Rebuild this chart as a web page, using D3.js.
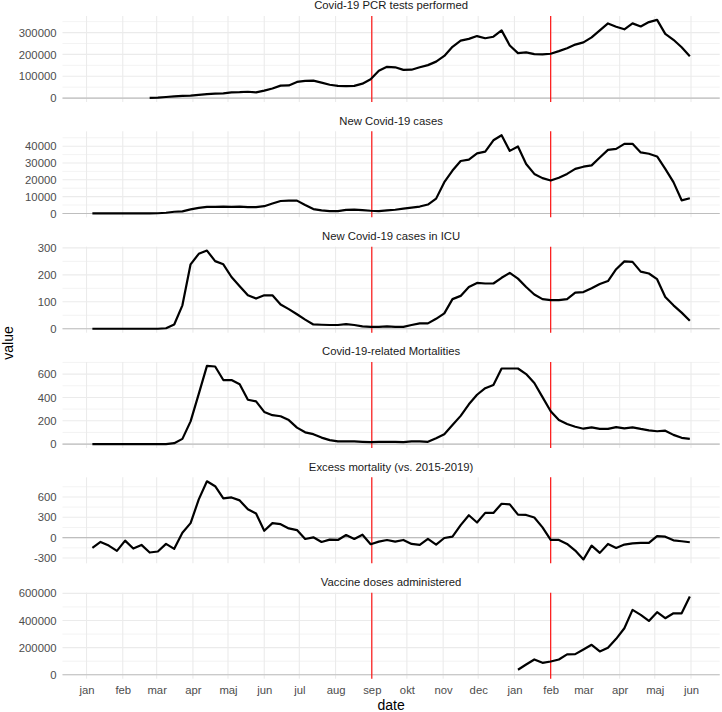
<!DOCTYPE html>
<html><head><meta charset="utf-8">
<script src="https://cdn.jsdelivr.net/npm/d3@7"></script>
<style>body{margin:0;background:#fff;} svg{display:block;}</style>
</head><body>
<svg id="chart" width="722" height="712"></svg>
<script>
// ---------- data ----------
const firstWeek = "2020-01-06";
const lastWeek = "2021-05-31";
const monthLabels = ["jan","feb","mar","apr","maj","jun","jul","aug","sep","okt","nov","dec","jan","feb","mar","apr","maj","jun"];
const firstMonth = "2020-01-01";
const lastMonth = "2021-06-01";
const markerDates = ["2020-09-01","2021-02-01"];
const panelTitles = ["Covid-19 PCR tests performed","New Covid-19 cases","New Covid-19 cases in ICU","Covid-19-related Mortalities","Excess mortality (vs. 2015-2019)","Vaccine doses administered"];

const pcrTests = [null,null,null,null,null,null,null,1000,2000,5000,8000,10000,11000,15000,18000,20000,22000,26000,27000,29000,26000,34000,44000,57000,58000,74000,79000,80000,71000,61000,56000,55000,56000,66000,86000,125000,143000,141000,129000,130000,141000,151000,167000,193000,235000,263000,271000,284000,274000,281000,310000,241000,206000,209000,201000,200000,203000,215000,228000,245000,255000,278000,310000,342000,327000,315000,342000,328000,348000,358000,294000,267000,233000,192000];
const newCases = [0,0,0,0,0,0,0,0,100,400,1000,1200,2400,3300,3900,3900,4100,3900,4100,3700,3700,4300,5900,7400,7600,7600,5000,2600,1800,1400,1400,2100,2300,2000,1600,1400,1800,2200,2900,3500,4100,5300,8800,18600,25500,31200,32000,35700,36800,43500,46500,37200,39800,29400,23500,21000,19600,21200,23500,26500,27800,28600,33300,37800,38400,41400,41400,36300,35500,33900,26500,18600,7800,9000];
const icuCases = [0,0,0,0,0,0,0,0,0,2,16,87,239,278,290,251,239,192,158,124,112,124,124,90,73,54,34,16,15,14,14,17,14,9,7,7,9,7,7,14,20,20,37,57,110,122,155,170,168,168,189,207,186,155,127,110,106,106,110,134,136,150,166,177,221,250,248,212,205,184,118,87,60,30];
const mortalities = [0,0,0,0,0,0,0,0,0,0,8,45,195,430,670,665,549,549,513,380,366,276,248,239,206,141,101,85,56,34,23,23,23,20,17,20,20,20,17,23,23,20,51,85,163,242,341,423,479,507,648,648,648,600,524,403,282,206,172,149,132,144,130,130,146,135,144,130,118,110,115,79,54,45];
const excessMortality = [-151,-63,-117,-194,-44,-160,-107,-219,-204,-92,-165,73,214,564,831,758,578,593,549,418,355,102,214,199,136,112,-19,5,-63,-29,-34,39,-19,44,-97,-58,-34,-58,-34,-92,-107,-19,-102,-5,15,185,330,224,365,365,500,491,340,335,296,151,-34,-34,-92,-190,-321,-117,-224,-92,-151,-102,-83,-78,-78,24,15,-39,-53,-68];
const vaccineDoses = [null,null,null,null,null,null,null,null,null,null,null,null,null,null,null,null,null,null,null,null,null,null,null,null,null,null,null,null,null,null,null,null,null,null,null,null,null,null,null,null,null,null,null,null,null,null,null,null,null,null,null,null,37000,76000,113000,88000,98000,113000,150000,152000,186000,221000,172000,199000,265000,343000,478000,441000,397000,461000,417000,453000,453000,576000];

const yTickValues = [
  [0,100000,200000,300000],
  [0,10000,20000,30000,40000],
  [0,100,200,300],
  [0,200,400,600],
  [-300,0,300,600],
  [0,200000,400000,600000]
];

// ---------- layout ----------
const seriesList = [pcrTests,newCases,icuCases,mortalities,excessMortality,vaccineDoses];
const parse = d3.utcParse("%Y-%m-%d");
const weeks = d3.utcMonday.range(parse(firstWeek), d3.utcDay.offset(parse(lastWeek),1));
const months = d3.utcMonth.range(parse(firstMonth), d3.utcDay.offset(parse(lastMonth),1));
const markers = markerDates.map(parse);

const panelLeft = 62.5, panelRight = 719.7;
const panelTop0 = 16, panelPitch = 115.34, panelH = 86;
const font = "'Liberation Sans', Arial, Helvetica, sans-serif";
const fmt = d3.formatLocale({decimal:".",thousands:"",grouping:[3],currency:["",""],minus:"-"}).format("d");

const t0 = weeks[0].getTime(), t1 = weeks[weeks.length-1].getTime();
const span = t1 - t0;
const x = d3.scaleUtc().domain([new Date(t0 - 0.05*span), new Date(t1 + 0.05*span)]).range([panelLeft, panelRight]);

const svg = d3.select("#chart").style("font-family", font);
svg.append("rect").attr("width",722).attr("height",712).attr("fill","#fff");

seriesList.forEach((vals, k) => {
  const top = panelTop0 + k*panelPitch;
  const bottom = top + panelH;
  const defined = vals.filter(v => v != null);
  const lo = Math.min(0, d3.min(defined)), hi = Math.max(0, d3.max(defined));
  const r = hi - lo;
  const y = d3.scaleLinear().domain([lo - 0.05*r, hi + 0.05*r]).range([bottom, top]);
  const g = svg.append("g");
  const ticks = yTickValues[k];
  const step = ticks[1] - ticks[0];
  const [dlo, dhi] = y.domain();
  const minor = [];
  for (let v = ticks[0] - step/2; v <= dhi; v += step) if (v >= dlo) minor.push(v);

  // minor horizontal grid
  g.selectAll(".minor").data(minor).join("line")
    .attr("x1", panelLeft).attr("x2", panelRight)
    .attr("y1", d => y(d)).attr("y2", d => y(d))
    .attr("stroke", "#EBEBEB").attr("stroke-width", 0.6);
  // major horizontal grid
  g.selectAll(".major").data(ticks).join("line")
    .attr("x1", panelLeft).attr("x2", panelRight)
    .attr("y1", d => y(d)).attr("y2", d => y(d))
    .attr("stroke", "#EBEBEB").attr("stroke-width", 1.1);
  // vertical grid (months)
  g.selectAll(".vgrid").data(months).join("line")
    .attr("x1", d => x(d)).attr("x2", d => x(d))
    .attr("y1", top).attr("y2", bottom)
    .attr("stroke", "#EBEBEB").attr("stroke-width", 1.1);
  // zero line
  g.append("line")
    .attr("x1", panelLeft).attr("x2", panelRight)
    .attr("y1", y(0)).attr("y2", y(0))
    .attr("stroke", "#BEBEBE").attr("stroke-width", 1.1);
  // red markers
  g.selectAll(".marker").data(markers).join("line")
    .attr("x1", d => x(d)).attr("x2", d => x(d))
    .attr("y1", top).attr("y2", bottom)
    .attr("stroke", "#FF0000").attr("stroke-width", 1.1);
  // data line
  const line = d3.line()
    .defined((d) => d != null)
    .x((d, i) => x(weeks[i]))
    .y(d => y(d));
  g.append("path").datum(vals)
    .attr("d", line)
    .attr("fill", "none").attr("stroke", "#000").attr("stroke-width", 2.2)
    .attr("stroke-linejoin", "round").attr("stroke-linecap", "butt");

  // y axis
  const ya = svg.append("g").attr("transform", `translate(${panelLeft},0)`)
    .call(d3.axisLeft(y).tickValues(ticks).tickFormat(fmt).tickSize(0).tickPadding(6));
  ya.select(".domain").remove();
  ya.selectAll("text").attr("font-size", "11.3px").attr("fill", "#4D4D4D").attr("font-family", font);

  // strip title
  svg.append("text")
    .attr("x", (panelLeft + panelRight)/2).attr("y", top - 6.8)
    .attr("text-anchor", "middle").attr("font-size", "11.3px").attr("fill", "#1A1A1A")
    .text(panelTitles[k]);

  if (k === seriesList.length - 1) {
    const xa = svg.append("g").attr("transform", `translate(0,${bottom})`)
      .call(d3.axisBottom(x).tickValues(months).tickFormat((d, i) => monthLabels[i]).tickSize(0).tickPadding(7.3));
    xa.select(".domain").remove();
    xa.selectAll("text").attr("font-size", "11.3px").attr("fill", "#4D4D4D").attr("font-family", font);
  }
});

// axis titles
svg.append("text").attr("x", (panelLeft + panelRight)/2).attr("y", 709.5)
  .attr("text-anchor", "middle").attr("font-size", "14px").attr("fill", "#000").text("date");
svg.append("text").attr("transform", "translate(13,343) rotate(-90)")
  .attr("text-anchor", "middle").attr("font-size", "14px").attr("fill", "#000").text("value");
</script>
</body></html>
